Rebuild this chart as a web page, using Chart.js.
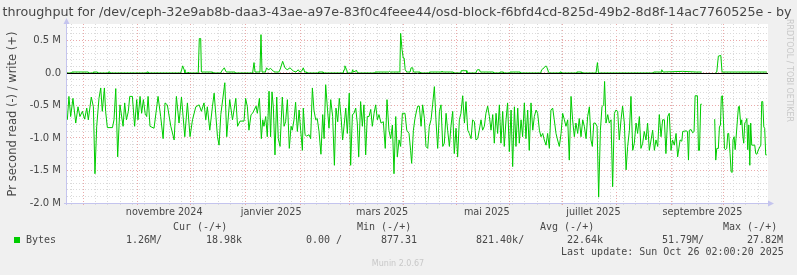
<!DOCTYPE html>
<html>
<head>
<meta charset="utf-8">
<script src="https://cdn.jsdelivr.net/npm/chart.js@4.4.1/dist/chart.umd.min.js"></script>
<style>
html, body { margin: 0; padding: 0; background: #f0f0f0; }
canvas { display: block; }
</style>
</head>
<body>
<canvas id="graph" width="797" height="275"></canvas>
<script>
// days since start of the 400 day window, values in M bytes / second
const readDays = [0.2,1.1,2.1,3.4,5.0,6.3,7.4,8.8,10.1,11.3,12.2,13.9,15.1,16.0,17.0,18.3,19.3,20.2,21.4,22.1,23.1,26.0,26.9,27.9,29.0,30.3,32.1,33.0,34.0,35.1,35.9,37.4,38.7,39.9,40.6,41.8,42.7,43.7,44.7,45.6,46.4,47.5,49.8,52.1,53.6,55.0,56.1,57.4,59.4,61.3,62.6,64.1,65.5,67.4,68.9,70.4,71.8,73.7,75.6,76.9,78.4,79.4,80.3,81.7,83.2,84.2,86.1,87.0,88.0,90.3,91.4,93.1,94.7,96.6,97.6,
  99.0,101.3,102.2,103.2,104.1,105.3,106.2,107.6,108.2,108.9,110.1,111.2,112.0,112.7,113.7,114.6,115.6,116.5,117.3,118.1,119.0,120.0,120.9,121.9,123.2,124.2,125.1,126.1,127.2,128.2,128.9,129.9,130.8,131.8,132.8,133.7,134.7,135.2,136.2,137.1,138.5,139.4,140.4,141.3,142.3,143.2,144.2,145.3,146.3,147.1,148.0,149.0,149.9,150.9,152.0,153.0,153.9,154.9,155.8,156.8,157.7,158.7,159.5,160.4,161.5,162.3,163.3,164.2,165.2,166.1,166.9,168.0,169.0,169.9,170.9,171.8,172.8,173.8,174.7,175.7,176.6,177.6,178.5,179.7,181.0,182.1,183.1,184.2,185.2,186.2,187.1,188.1,189.0,190.0,190.9,191.9,193.4,194.4,195.7,196.6,197.2,198.2,199.1,
  200.1,200.7,201.6,202.6,203.5,204.5,205.4,206.4,207.3,208.3,209.2,210.2,211.1,212.1,213.1,214.0,215.0,215.9,216.9,217.8,218.8,219.7,220.7,221.6,222.6,223.5,224.5,225.4,226.4,227.4,228.3,229.3,230.2,231.2,232.1,233.1,234.0,235.0,235.9,236.9,237.8,238.8,239.7,240.7,241.7,242.6,243.6,244.5,245.5,246.4,247.4,248.3,249.3,250.2,251.2,252.1,253.1,254.1,255.0,256.0,256.9,257.9,258.8,259.8,260.7,261.7,262.6,263.6,264.5,265.5,266.5,267.4,268.4,269.3,270.3,271.2,272.2,273.1,274.1,275.0,276.0,276.9,277.9,278.8,279.8,280.7,281.7,282.7,283.6,284.6,285.5,286.5,287.4,288.4,289.3,290.3,291.2,292.2,293.1,294.1,295.1,296.0,297.0,297.9,298.9,299.8,
  300.6,301.4,302.3,303.3,304.2,305.2,306.1,307.1,307.6,308.4,309.4,310.3,311.3,312.2,313.2,314.1,315.1,316.0,317.0,317.9,318.9,319.9,320.8,321.8,322.7,323.7,324.6,325.6,326.5,327.5,328.4,329.4,330.3,331.3,332.2,333.2,334.2,335.1,336.1,337.0,338.0,338.9,339.9,340.8,341.8,342.7,343.7,344.6,345.6,346.5,347.5,348.5,349.4,
  350.8,351.8,352.3,354.2,355.0,355.6,356.1,357.1,358.0,358.8,359.4,360.7,361.3,361.9,362.6,363.2,366.0,370.6,371.2,371.8,372.7,373.3,373.9,374.4,375.0,375.6,376.2,376.7,377.5,378.1,378.6,379.4,380.0,380.6,381.1,381.7,382.3,382.8,383.6,384.2,384.7,385.5,386.1,386.7,387.2,387.8,388.4,389.0,389.5,390.1,390.7,391.2,391.8,393.5,394.1,394.7,395.8,397.0,397.5,398.1,398.7,399.2,399.8,400.4];
const readVals = [-0.72,-0.36,-0.67,-0.39,-0.77,-0.52,-0.67,-0.59,-0.71,-0.54,-0.72,-0.37,-0.52,-1.55,-0.82,-0.39,-0.23,-0.59,-0.23,-0.59,-0.84,-0.84,-0.72,-0.24,-1.29,-0.49,-0.82,-0.46,-0.72,-0.59,-0.36,-0.36,-0.82,-0.41,-0.72,-0.36,-0.62,-0.41,-0.62,-0.67,-0.36,-0.82,-0.85,-0.36,-0.67,-1.01,-0.46,-0.49,-0.82,-1.03,-0.36,-0.77,-0.37,-0.98,-0.46,-0.98,-0.72,-0.52,-0.49,-0.59,-0.46,-0.72,-0.52,-0.88,-0.52,-0.31,-0.98,-1.11,-0.64,-0.15,-0.98,-0.41,-0.72,-0.39,-0.82,
  -0.74,-0.74,-0.39,-0.52,-0.88,-0.64,-0.62,-0.54,-0.51,-0.62,-0.39,-1.01,-0.72,-0.82,-0.67,-0.98,-0.28,-0.98,-0.29,-0.54,-1.26,-0.37,-1.01,-1.13,-0.37,-0.82,-0.75,-0.41,-1.16,-0.82,-0.88,-0.72,-0.45,-0.90,-0.57,-0.88,-1.19,-0.54,-0.95,-0.97,-0.95,-1.01,-0.23,-0.57,-0.72,-0.70,-0.90,-1.25,-0.64,-1.01,-0.18,-0.54,-0.85,-0.41,-0.67,-1.42,-0.54,-0.75,-0.39,-0.67,-1.03,-0.77,-0.54,-0.93,-0.31,-1.42,-0.64,-0.62,-0.54,-0.77,-1.29,-0.44,-0.82,-0.49,-1.26,-0.67,-0.67,-0.56,-0.82,-0.62,-0.49,-0.72,-0.64,-0.77,-0.75,-1.16,-0.41,-0.88,-1.01,-0.80,-1.55,-0.67,-1.29,-1.03,-1.13,-0.62,-0.62,-0.88,-0.93,-1.19,-1.39,-0.88,-0.70,
  -0.57,-0.51,-0.51,-0.82,-0.49,-0.70,-1.13,-1.16,-0.82,-0.72,-0.49,-0.21,-0.72,-1.16,-0.59,-0.49,-1.13,-1.08,-0.62,-0.88,-1.13,-0.82,-0.59,-1.24,-0.85,-1.29,-0.72,-0.62,-0.35,-0.77,-0.44,-0.88,-0.93,-1.01,-0.72,-0.75,-1.03,-1.01,-0.88,-0.72,-0.88,-0.82,-0.62,-0.51,-0.67,-0.88,-0.64,-1.08,-0.62,-0.93,-0.49,-1.08,-0.59,-1.13,-0.72,-0.46,-1.21,-0.57,-1.44,-0.52,-1.13,-0.54,-1.08,-0.72,-0.98,-0.46,-1.01,-0.57,-1.19,-0.46,-0.88,-0.67,-0.57,-0.62,-0.88,-0.98,-0.93,-1.03,-1.11,-0.93,-1.16,-0.57,-0.54,-0.72,-0.93,-1.03,-1.13,-0.93,-0.62,-0.72,-0.82,-0.72,-1.34,-0.36,-0.72,-0.98,-0.77,-0.93,-0.70,-0.98,-0.72,-0.82,-1.01,-0.67,-0.52,-1.03,
  -1.13,-0.77,-0.77,-0.82,-1.91,-0.88,-0.52,-0.49,-0.13,-0.77,-0.64,-0.77,-0.72,-1.75,-0.62,-0.57,-0.59,-1.03,-0.72,-0.51,-0.77,-1.49,-1.13,-0.88,-0.36,-1.19,-1.08,-0.77,-0.93,-0.67,-1.16,-1.08,-0.90,-1.03,-0.77,-1.19,-1.03,-0.88,-1.19,-1.03,-1.13,-0.64,-0.98,-0.72,-0.72,-1.24,-0.67,-0.62,-1.19,-1.03,-1.11,-0.93,-1.29,
  -1.03,-1.05,-0.90,-0.89,-0.90,-1.34,-0.88,-0.87,-0.92,-0.90,-0.35,-0.35,-1.19,-1.19,-0.48,-0.48,null,-0.71,-1.34,-1.16,-1.16,-0.83,-0.80,-0.36,-0.35,-0.72,-1.16,-1.18,-1.16,-0.93,-0.93,-1.24,-1.52,-1.53,-1.03,-0.98,-1.18,-1.01,-0.72,-0.52,-0.51,-0.80,-0.72,-0.97,-1.08,-0.77,-0.75,-0.70,-1.18,-0.80,-1.42,-0.77,-1.11,-1.11,-1.24,-1.25,-1.17,-1.11,-0.44,-0.44,-0.83,-0.85,-1.26,-1.26];

const writeDays = [0,2.7,2.8,12.2,12.3,15,15.1,17.4,17.5,23.6,23.7,24.6,24.7,45.6,45.7,46.5,46.6,65.0,65.6,66.2,67.0,67.5,69.2,69.4,69.6,75.1,75.7,76.5,76.9,83.3,83.4,88.0,88.5,90.0,90.8,91.3,96.1,96.2,106.2,107.0,107.6,110.4,111.0,111.6,113.5,114.2,115.2,116.5,118,119,121.2,121.9,123.4,124.7,126,127.6,129.5,131,132.3,133.2,134.3,135.2,136.0,137.1,137.2,143.8,143.9,146.6,146.7,158.0,158.5,159.0,160.0,160.5,163.0,163.4,164.0,165.7,166.2,176.2,176.3,184,184.5,185,186.7,190.0,190.5,190.9,191.7,192.4,192.9,193.5,194.4,196.3,196.9,197.8,198.2,202,202.1,207.3,207.4,214,214.5,215,221,221.1,225.4,225.5,228.7,228.8,234,234.1,234.8,236,236.5,244,244.1,247.7,247.8,249.7,249.8,253.4,253.5,259.3,259.4,271.0,271.6,273.0,274.0,274.7,275.5,276,282,282.1,282.8,282.9,291.6,291.7,294.5,294.6,302.7,303.5,304.1,335.6,335.7,340.0,340.3,341,352.3,360,363.2,366.0,371.0,371.8,372.7,374.1,374.8,383.2,400.4];
const writeVals = [0,0,0.015,0.015,0,0,0.015,0.015,0,0,0.015,0.015,0,0,0.015,0.015,0,0,0.05,0.11,0.05,0,0,0.015,0,0,0.53,0.53,0.015,0.015,0,0,0.03,0.08,0.03,0.015,0.015,0,0,0.16,0.015,0.015,0.59,0.015,0.015,0.08,0.05,0.07,0.03,0.015,0.015,0.05,0.18,0.08,0.05,0.08,0.03,0.015,0.05,0.015,0.03,0.08,0.015,0.015,0,0,0.015,0.015,0,0,0.05,0.11,0.05,0,0,0.05,0.015,0.04,0,0,0.015,0.015,0.025,0.015,0.015,0.015,0.10,0.61,0.36,0.23,0.23,0.05,0.015,0.015,0.08,0.08,0.015,0.015,0,0,0.015,0.015,0.03,0.015,0.015,0,0,0.035,0.035,0,0,0.015,0.05,0.05,0.015,0.015,0,0,0.015,0.015,0,0,0.015,0.015,0,0,0.05,0.08,0.11,0.08,0.015,0,0,0.015,0.015,0,0,0.015,0.015,0,0,0.16,0,0,0.015,0.015,0.05,0.015,0.025,0.015,0.015,null,0,0.015,0.26,0.27,0.015,0.015,0.015];

const xLabels = ['novembre 2024', 'janvier 2025', 'mars 2025', 'mai 2025', 'juillet 2025', 'septembre 2025'];
const xLabelDays = [55.6, 116.8, 180.3, 240.2, 301.2, 363.6];
const monthDays = [9.2, 40.5, 70.8, 102.3, 133.6, 161.5, 192.4, 222.6, 253.1, 283.4, 314.5, 345.6, 375.4];
const yMajor = [-2.0, -1.5, -1.0, -0.5, 0.0, 0.5];

const legendHeads = ['Cur (-/+)', 'Min (-/+)', 'Avg (-/+)', 'Max (-/+)'];
const legendVals = ['1.26M/', '18.98k', '0.00 /', '877.31', '821.40k/', '22.64k', '51.79M/', '27.82M'];

const GREEN = '#00cc00';
const MINOR = '#dadada';
const MAJOR = '#eaaaaa';
const AXIS = '#c4c4ee';
const TEXT = '#474747';

const weekDays = [];
for (let d = 2.3; d < 401; d += 7.02) weekDays.push(d);
const yMinor = [];
for (let i = -20; i <= 7; i++) yMinor.push(i / 10);

function points(days, vals) {
    return days.map((d, i) => ({ x: d, y: vals[i] }));
}

function isMajor(v) {
    return yMajor.some(m => Math.abs(m - v) < 1e-6);
}

const decor = {
    id: 'decor',
    beforeDraw(chart) {
        const { ctx, chartArea: a } = chart;
        ctx.save();
        ctx.fillStyle = '#f0f0f0';
        ctx.fillRect(0, 0, chart.width, chart.height);
        ctx.fillStyle = '#ffffff';
        ctx.fillRect(a.left, a.top, a.right - a.left, a.bottom - a.top);
        ctx.restore();
    },
    afterDatasetsDraw(chart) {
        const { ctx, chartArea: a } = chart;
        const y0 = Math.round(chart.scales.y.getPixelForValue(0)) + 0.5;
        ctx.save();
        ctx.strokeStyle = '#000';
        ctx.lineWidth = 1;
        ctx.beginPath();
        ctx.moveTo(a.left, y0);
        ctx.lineTo(a.right, y0);
        ctx.stroke();

        // axis lines with arrows
        ctx.strokeStyle = AXIS;
        ctx.fillStyle = AXIS;
        ctx.beginPath();
        ctx.moveTo(a.left - 0.5, a.bottom + 2);
        ctx.lineTo(a.left - 0.5, a.top - 2);
        ctx.moveTo(a.left - 3, a.bottom + 0.5);
        ctx.lineTo(a.right + 2, a.bottom + 0.5);
        ctx.stroke();
        ctx.beginPath();
        ctx.moveTo(a.left - 0.5, a.top - 6);
        ctx.lineTo(a.left - 3.5, a.top);
        ctx.lineTo(a.left + 2.5, a.top);
        ctx.closePath();
        ctx.fill();
        ctx.beginPath();
        ctx.moveTo(a.right + 6, a.bottom + 0.5);
        ctx.lineTo(a.right, a.bottom - 2.5);
        ctx.lineTo(a.right, a.bottom + 3.5);
        ctx.closePath();
        ctx.fill();
        ctx.restore();
    },
    afterDraw(chart) {
        const ctx = chart.ctx;
        ctx.save();
        ctx.fillStyle = TEXT;
        ctx.textBaseline = 'middle';

        ctx.font = '12.7px "DejaVu Sans"';
        ctx.textAlign = 'center';
        ctx.fillText('throughput for /dev/ceph-32e9ab8b-daa3-43ae-a97e-83f0c4feee44/osd-block-f6bfd4cd-825d-49b2-8d8f-14ac7760525e - by', 397, 13);

        ctx.save();
        ctx.translate(13, 114);
        ctx.rotate(-Math.PI / 2);
        ctx.font = '11.5px "DejaVu Sans"';
        ctx.fillText('Pr second read (-) / write (+)', 0, 0);
        ctx.restore();

        ctx.save();
        ctx.translate(789, 19);
        ctx.rotate(Math.PI / 2);
        ctx.textAlign = 'left';
        ctx.fillStyle = '#c8c8c8';
        ctx.font = '8px "DejaVu Sans"';
        ctx.fillText('RRDTOOL / TOBI OETIKER', 0, 0);
        ctx.restore();

        ctx.font = '10px "DejaVu Sans Mono"';
        ctx.textAlign = 'left';
        const headX = [173, 357, 540, 723];
        legendHeads.forEach((t, i) => ctx.fillText(t, headX[i], 227.5));
        ctx.fillText('Bytes', 26, 240);
        const valX = [126, 206, 306, 381, 476, 567, 662, 747];
        legendVals.forEach((t, i) => ctx.fillText(t, valX[i], 240));
        ctx.fillText('Last update: Sun Oct 26 02:00:20 2025', 561, 252);

        ctx.fillStyle = GREEN;
        ctx.fillRect(14, 237, 6, 6);

        ctx.fillStyle = '#c8c8c8';
        ctx.textAlign = 'center';
        ctx.font = '8px "DejaVu Sans"';
        ctx.fillText('Munin 2.0.67', 398, 264);
        ctx.restore();
    }
};

const gridAxis = (days, color, weight) => ({
    type: 'linear',
    min: 0,
    max: 401.1,
    position: 'bottom',
    weight: weight,
    afterBuildTicks: s => { s.ticks = days.map(v => ({ value: v })); },
    afterFit: s => { s.height = 0; },
    grid: { color: color, tickColor: color, tickLength: 2, borderDash: [1, 2], tickBorderDash: [] },
    border: { display: false, dash: [1, 2] },
    ticks: { display: false }
});

const ctx = document.getElementById('graph').getContext('2d');

new Chart(ctx, {
    type: 'line',
    data: {
        datasets: [{
            label: 'read',
            data: points(readDays, readVals),
            borderColor: GREEN,
            borderWidth: 1,
            pointRadius: 0,
            tension: 0,
            spanGaps: false,
            xAxisID: 'x',
            yAxisID: 'y'
        }, {
            label: 'write',
            data: points(writeDays, writeVals),
            borderColor: GREEN,
            borderWidth: 1,
            pointRadius: 0,
            tension: 0,
            spanGaps: false,
            xAxisID: 'x',
            yAxisID: 'y'
        }]
    },
    options: {
        responsive: false,
        animation: false,
        devicePixelRatio: 1,
        layout: { padding: { left: 0, top: 24, right: 29, bottom: 52 } },
        plugins: { legend: { display: false }, tooltip: { enabled: false }, title: { display: false } },
        scales: {
            x: gridAxis(weekDays, MINOR, 0),
            xMajor: gridAxis(monthDays, MAJOR, 1),
            xLab: {
                type: 'linear',
                min: 0,
                max: 401.1,
                position: 'bottom',
                weight: 2,
                afterBuildTicks: s => { s.ticks = xLabelDays.map(v => ({ value: v })); },
                afterFit: s => { s.height = 20; },
                grid: { display: false, drawTicks: false },
                border: { display: false },
                ticks: {
                    autoSkip: false,
                    maxRotation: 0,
                    padding: 4,
                    color: TEXT,
                    font: { family: 'DejaVu Sans', size: 9.7 },
                    callback: (v, i) => xLabels[i]
                }
            },
            y: {
                type: 'linear',
                min: -2.0,
                max: 0.7538,
                afterBuildTicks: s => { s.ticks = yMinor.map(v => ({ value: v })); },
                afterFit: s => { s.width = 67; },
                grid: {
                    drawTicks: false,
                    borderDash: [1, 2],
                    color: c => isMajor(c.tick.value) ? MAJOR : MINOR
                },
                border: { display: false, dash: [1, 2] },
                ticks: {
                    autoSkip: false,
                    padding: 6,
                    color: TEXT,
                    font: { family: 'DejaVu Sans', size: 10 },
                    callback: v => {
                        if (!isMajor(v)) return '';
                        if (Math.abs(v) < 1e-6) return '0.0';
                        return v.toFixed(1) + ' M';
                    }
                }
            }
        }
    },
    plugins: [decor]
});
</script>
</body>
</html>
